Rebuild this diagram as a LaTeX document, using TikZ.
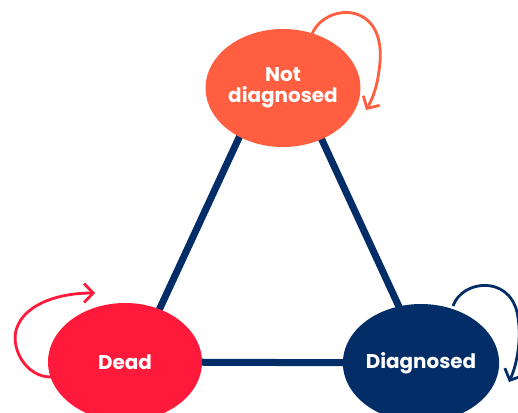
\documentclass[tikz,border=0pt]{standalone}
\usepackage{fontspec}
\setmainfont{Poppins}
\usetikzlibrary{shapes.geometric,arrows.meta}
\definecolor{cOrange}{HTML}{FF5F40}
\definecolor{cRed}{HTML}{FF1A3C}
\definecolor{cNavy}{HTML}{022D66}
\tikzset{
  state/.style={ellipse, minimum width=154bp, minimum height=118bp, inner sep=0pt,
    text=white, align=center, font=\bfseries\fontsize{20}{21}\selectfont},
  link/.style={line width=7bp, draw=cNavy},
  loopline/.style={line width=2.8bp, -{Straight Barb[length=9bp,width=19bp,line width=2.8bp]}},
}
\begin{document}
\begin{tikzpicture}[x=1bp,y=-1bp]
\useasboundingbox (0,0) rectangle (518,412);
\clip (0,0) rectangle (518,412);
% edges first (under nodes)
\coordinate (ndL) at (262,88);
\coordinate (ndR) at (298,88);
\coordinate (deT) at (135,362);
\coordinate (diT) at (425,363);
\draw[link] (ndL) -- (deT);
\draw[link] (ndR) -- (diT);
\draw[link] (deT) -- (diT);
\node[state, fill=cOrange] (nd) at (283,88) {Not\\diagnosed};
\node[state, fill=cRed] (de) at (125,362) {Dead};
\node[state, fill=cNavy] (di) at (421,363) {Diagnosed};
% self loops
\coordinate (ndS) at (312,34);
\coordinate (ndE) at (366,110);
\draw[loopline, cOrange] (ndS) .. controls (325,3) and (385,0) .. (380,62)
  .. controls (378,85) and (373,98) .. (ndE);
\coordinate (deS) at (52,377);
\coordinate (deE) at (95,293);
\draw[loopline, cRed] (deS) .. controls (25,378) and (8,345) .. (18,325)
  .. controls (28,303) and (60,293) .. (deE);
\coordinate (diS) at (453,306);
\coordinate (diE) at (509,382);
\draw[loopline, cNavy] (diS) .. controls (462,280) and (508,275) .. (517,312)
  .. controls (522,335) and (518,362) .. (diE);
\end{tikzpicture}
\end{document}
